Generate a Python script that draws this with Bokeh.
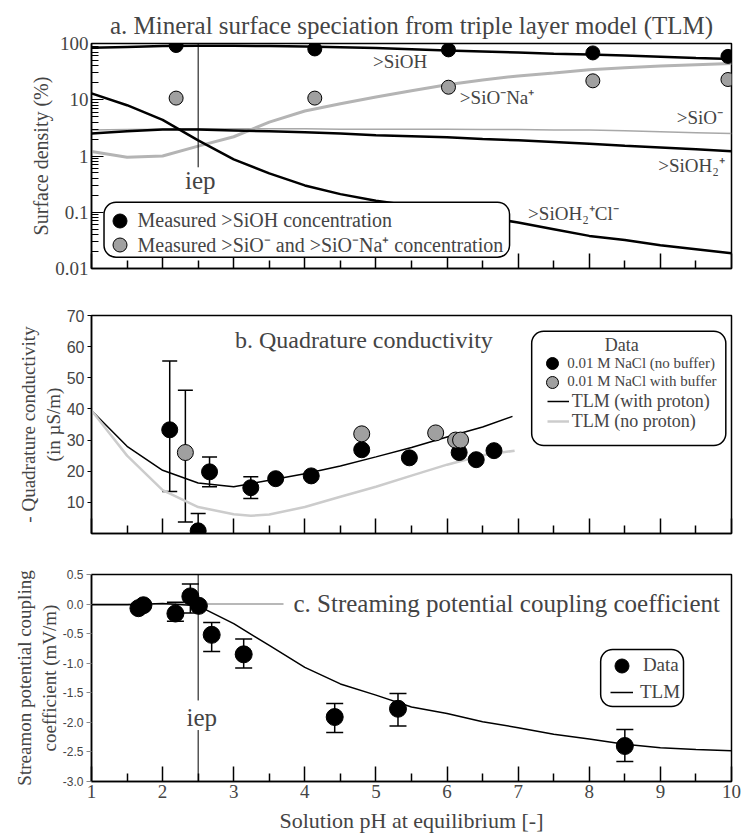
from bokeh.plotting import figure
from bokeh.layouts import column
from bokeh.models import (Range1d, FixedTicker, CustomJSTickFormatter, Label, Legend, LegendItem,
                          BoxAnnotation, Whisker, TeeHead, ColumnDataSource)
from bokeh.embed import file_html
from bokeh.resources import INLINE

SERIF = "Liberation Serif"
SANS = "Liberation Sans"

# ---------------- Panel a data ----------------
ph_meas_a = [2.19, 4.14, 6.02, 8.05, 9.95]
sioh_meas = [92, 80, 77, 68, 59]
sio_meas = [10.7, 10.7, 16.7, 21.7, 22.9]

ph_model_a = [1.0, 1.5, 2.0, 2.5, 3.0, 3.5, 4.0, 4.5, 5.0, 5.5, 6.0, 6.5, 7.0, 7.5, 8.0, 8.5, 9.0, 9.5, 10.0]
sioh_model = [84, 87, 90, 91, 91, 90, 88, 86, 83, 79, 75, 72, 69, 66, 64, 61, 58, 55, 53]
sio_na_model = [1.2, 0.95, 1.0, 1.5, 2.2, 4.0, 6.3, 8.5, 11.2, 14.5, 18.5, 22.5, 26.5, 30.0, 34.0, 37.0, 40.0, 42.0, 44.0]
sio_model = [2.9, 2.95, 3.0, 3.05, 3.05, 3.05, 3.05, 3.0, 3.0, 3.0, 3.0, 2.95, 2.95, 2.9, 2.9, 2.8, 2.7, 2.6, 2.5]
sioh2_model = [2.5, 2.75, 2.95, 2.95, 2.85, 2.75, 2.65, 2.5, 2.35, 2.25, 2.15, 2.0, 1.9, 1.78, 1.65, 1.52, 1.42, 1.32, 1.22]
sioh2cl_model = [13.0, 8.0, 4.4, 1.9, 0.87, 0.49, 0.30, 0.21, 0.16, 0.13, 0.10, 0.082, 0.066, 0.050, 0.038, 0.032, 0.026, 0.022, 0.0186]
iep_ph = 2.5

# ---------------- Panel b data ----------------
ph_b_nobuf = [2.10, 2.50, 2.66, 3.24, 3.59, 4.09, 4.80, 5.47, 6.17, 6.41, 6.66]
q_nobuf = [33.3, 0.85, 19.8, 14.7, 17.6, 18.5, 26.9, 24.3, 26.0, 23.7, 26.6]
ph_b_buf = [2.32, 4.80, 5.84, 6.12, 6.19]
q_buf = [26.0, 32.0, 32.3, 30.0, 30.0]
err_b_ph = [2.10, 2.32, 2.50, 2.66, 3.24]
err_b_low = [13.5, 3.7, 0.85, 15.0, 11.2]
err_b_up = [55.4, 46.0, 6.4, 24.6, 18.2]

ph_tlm_proton = [1.0, 1.5, 2.0, 2.5, 3.0, 3.5, 4.0, 4.5, 5.0, 5.5, 6.0, 6.5, 6.92]
q_tlm_proton = [39.5, 28.0, 20.3, 16.2, 15.0, 17.1, 19.2, 21.7, 24.6, 27.6, 31.0, 34.2, 37.6]
ph_tlm_noproton = [1.0, 1.5, 2.0, 2.5, 3.0, 3.24, 3.5, 4.0, 4.5, 5.0, 5.5, 6.0, 6.5, 6.95]
q_tlm_noproton = [39.5, 25.0, 13.9, 8.5, 6.2, 5.7, 6.1, 8.5, 11.8, 15.0, 18.6, 22.1, 25.1, 26.6]

# ---------------- Panel c data ----------------
ph_c = [1.66, 1.73, 2.18, 2.39, 2.51, 2.69, 3.14, 4.42, 5.31, 8.50]
c_val = [-0.07, -0.02, -0.16, 0.13, -0.03, -0.52, -0.85, -1.91, -1.77, -2.40]
err_c_ph = [2.18, 2.39, 2.69, 3.14, 4.42, 5.31, 8.50]
err_c_low = [-0.29, -0.15, -0.80, -1.08, -2.17, -2.06, -2.66]
err_c_up = [0.03, 0.34, -0.31, -0.59, -1.68, -1.51, -2.12]
ph_tlm_c = [1.0, 1.5, 2.0, 2.5, 3.0, 3.5, 4.0, 4.5, 5.0, 5.5, 6.0, 6.5, 7.0, 7.5, 8.0, 8.5, 9.0, 9.5, 10.0]
c_tlm = [-0.01, -0.01, 0.01, -0.03, -0.33, -0.70, -1.07, -1.35, -1.54, -1.74, -1.85, -1.99, -2.09, -2.20, -2.28, -2.37, -2.43, -2.46, -2.48]
zero_ph = [1.0, 3.7]
zero_val = [0.0, 0.0]

x_major = [1, 2, 3, 4, 5, 6, 7, 8, 9, 10]
x_minor = [1.5, 2.5, 3.5, 4.5, 5.5, 6.5, 7.5, 8.5, 9.5]

BOX_KW = {}
if "border_radius" in BoxAnnotation.properties():
    BOX_KW["border_radius"] = 12


def style_common(p):
    p.grid.visible = False
    p.outline_line_color = "black"
    p.outline_line_width = 1.5
    p.background_fill_color = "white"
    p.border_fill_color = "white"


def style_xaxis(ax, show_labels=False):
    ax.ticker = FixedTicker(ticks=x_major, minor_ticks=x_minor)
    ax.axis_line_width = 1.5
    ax.major_tick_in = 15
    ax.major_tick_out = 0
    ax.minor_tick_in = 8
    ax.minor_tick_out = 0
    ax.major_tick_line_width = 1.5
    ax.minor_tick_line_width = 1.5
    if not show_labels:
        ax.major_label_text_color = None
        ax.major_label_text_font_size = "8px"
        ax.major_label_standoff = 0


def add_box(p, left, right, top, bottom):
    p.add_layout(BoxAnnotation(left=left, right=right, top=top, bottom=bottom, fill_color="white",
                               fill_alpha=1, line_color="black", line_alpha=1, line_width=1.5, **BOX_KW))


def add_legend(p, renderer, label, loc, gw, gh, standoff, font_size):
    leg = Legend(items=[LegendItem(label=label, renderers=[renderer])], location=loc,
                 glyph_width=gw, glyph_height=gh, label_standoff=standoff, padding=0, margin=0,
                 spacing=0, border_line_color=None, background_fill_alpha=0,
                 label_text_font=SERIF, label_text_font_size=font_size, label_height=gh)
    p.add_layout(leg)


# ================= Panel a =================
pa = figure(width=746, height=290, x_range=Range1d(1, 10), y_range=Range1d(0.01, 100),
            y_axis_type="log", output_backend="svg", toolbar_location=None,
            min_border_left=85, min_border_right=15, min_border_top=43, min_border_bottom=22)
style_common(pa)
pa.title.text = "a. Mineral surface speciation from triple layer model (TLM)"
pa.title.text_font = SERIF
pa.title.text_font_size = "25px"
pa.title.text_font_style = "normal"
pa.title.align = "center"
pa.title.standoff = 9

style_xaxis(pa.xaxis[0])
ya = pa.yaxis[0]
ya.ticker = FixedTicker(ticks=[0.01, 0.1, 1, 10, 100],
                        minor_ticks=[m * d for d in [0.01, 0.1, 1, 10] for m in range(2, 10)])
ya.formatter = CustomJSTickFormatter(code="return String(tick);")
ya.major_tick_in = 12
ya.major_tick_out = 0
ya.minor_tick_in = 7
ya.minor_tick_out = 0
ya.axis_line_width = 1.5
ya.major_label_text_font = SERIF
ya.major_label_text_font_size = "19px"
ya.major_label_standoff = 3
ya.axis_label = "Surface density (%)"
ya.axis_label_text_font = SERIF
ya.axis_label_text_font_size = "20px"
ya.axis_label_text_font_style = "normal"
ya.axis_label_standoff = 0

pa.line(ph_model_a, sio_model, line_color="#a8a8a8", line_width=1.5)
pa.line(ph_model_a, sio_na_model, line_color="#b4b4b4", line_width=3)
pa.line(ph_model_a, sioh_model, line_color="black", line_width=2.5)
pa.line(ph_model_a, sioh2_model, line_color="black", line_width=2.5)
pa.line(ph_model_a, sioh2cl_model, line_color="black", line_width=2.5)
pa.segment(x0=[iep_ph], y0=[100], x1=[iep_ph], y1=[0.63], line_color="black", line_width=1)
ra1 = pa.scatter(ph_meas_a, sioh_meas, size=14, fill_color="black", line_color="black")
ra2 = pa.scatter(ph_meas_a, sio_meas, size=14, fill_color="#a0a0a0", line_color="black", line_width=1)

for txt, xx, yy in [(">SiOH", 4.96, 47.9), (">SiO\u207bNa\u207a", 6.18, 11.1), (">SiO\u207b", 9.23, 4.9),
                    (">SiOH\u2082\u207a", 8.97, 0.678), (">SiOH\u2082\u207aCl\u207b", 7.14, 0.0938)]:
    pa.add_layout(Label(x=xx, y=yy, text=txt, text_font=SERIF, text_font_size="19px",
                        text_baseline="middle", text_align="left"))
pa.add_layout(Label(x=2.53, y=0.367, text="iep", text_font=SERIF, text_font_size="25px",
                    text_baseline="middle", text_align="center"))

add_box(pa, 1.176, 6.879, 0.151, 0.0159)
add_legend(pa, ra1, "Measured >SiOH concentration", (10.5, 30.5), 35, 35, 1, "20px")
add_legend(pa, ra2, "Measured >SiO\u207b and >SiO\u207bNa\u207a concentration", (10.5, 6.2), 35, 35, 1, "20px")

# ================= Panel b =================
pb = figure(width=746, height=255, x_range=Range1d(1, 10), y_range=Range1d(0, 70),
            output_backend="svg", toolbar_location=None,
            min_border_left=86, min_border_right=12, min_border_top=25, min_border_bottom=12)
style_common(pb)
style_xaxis(pb.xaxis[0])
yb = pb.yaxis[0]
yb.ticker = FixedTicker(ticks=[10, 20, 30, 40, 50, 60, 70])
yb.major_tick_in = 0
yb.major_tick_out = 4
yb.minor_tick_in = 0
yb.minor_tick_out = 0
yb.axis_line_width = 1.5
yb.major_label_text_font = SANS
yb.major_label_text_font_size = "16px"
yb.major_label_standoff = 3
yb.axis_label = "- Quadrature conductivity\n(in \u00b5S/m)"
yb.axis_label_text_font = SERIF
yb.axis_label_text_font_size = "19px"
yb.axis_label_text_font_style = "normal"
yb.axis_label_standoff = 0

rb3 = pb.line(ph_tlm_proton, q_tlm_proton, line_color="black", line_width=1.5)
rb4 = pb.line(ph_tlm_noproton, q_tlm_noproton, line_color="#cccccc", line_width=2.5)
src_eb = ColumnDataSource(dict(base=err_b_ph, lower=err_b_low, upper=err_b_up))
pb.add_layout(Whisker(source=src_eb, base="base", lower="lower", upper="upper", line_color="black",
                      line_width=1.5,
                      upper_head=TeeHead(size=15, line_color="black", line_width=1.5),
                      lower_head=TeeHead(size=15, line_color="black", line_width=1.5)))
rb1 = pb.scatter(ph_b_nobuf, q_nobuf, size=16, fill_color="black", line_color="black")
rb2 = pb.scatter(ph_b_buf, q_buf, size=16, fill_color="#a0a0a0", line_color="black", line_width=1)

pb.add_layout(Label(x=4.83, y=62.0, text="b. Quadrature conductivity", text_font=SERIF,
                    text_font_size="24px", text_baseline="middle", text_align="center"))
add_box(pb, 7.19, 9.92, 64.96, 28.26)
pb.add_layout(Label(x=8.458, y=60.4, text="Data", text_font=SERIF, text_font_size="18px",
                    text_baseline="middle", text_align="center"))
add_legend(pb, rb1, "0.01 M NaCl (no buffer)", (446.3, 154.7), 30, 30, 0, "15px")
add_legend(pb, rb2, "0.01 M NaCl with buffer", (446.3, 136.3), 30, 30, 0, "15px")
add_legend(pb, rb3, "TLM (with proton)", (455.7, 121.5), 22, 20, 3, "18px")
add_legend(pb, rb4, "TLM (no proton)", (455.7, 101.5), 22, 20, 3, "18px")

# ================= Panel c =================
pc = figure(width=746, height=295, x_range=Range1d(1, 10), y_range=Range1d(-3.0, 0.5),
            output_backend="svg", toolbar_location=None,
            min_border_left=91, min_border_right=8, min_border_top=29, min_border_bottom=59)
style_common(pc)
style_xaxis(pc.xaxis[0], show_labels=True)
xc = pc.xaxis[0]
xc.formatter = CustomJSTickFormatter(code="return tick.toFixed(0);")
xc.major_label_text_font = SERIF
xc.major_label_text_font_size = "19px"
xc.major_label_standoff = 3
xc.axis_label = "Solution pH at equilibrium [-]"
xc.axis_label_text_font = SERIF
xc.axis_label_text_font_size = "22px"
xc.axis_label_text_font_style = "normal"
xc.axis_label_standoff = 7

yc = pc.yaxis[0]
yc.ticker = FixedTicker(ticks=[-3.0, -2.5, -2.0, -1.5, -1.0, -0.5, 0.0, 0.5])
yc.formatter = CustomJSTickFormatter(code="return tick.toFixed(1);")
yc.major_tick_in = 0
yc.major_tick_out = 5
yc.major_tick_line_color = "#888888"
yc.minor_tick_in = 0
yc.minor_tick_out = 0
yc.axis_line_width = 1.5
yc.major_label_text_font = SANS
yc.major_label_text_font_size = "12px"
yc.major_label_standoff = 3
yc.axis_label = "Streamon potential coupling\ncoefficient (mV/m)"
yc.axis_label_text_font = SERIF
yc.axis_label_text_font_size = "19px"
yc.axis_label_text_font_style = "normal"
yc.axis_label_standoff = 0

pc.line(zero_ph, zero_val, line_color="#a0a0a0", line_width=1.5)
pc.segment(x0=[iep_ph, iep_ph], y0=[0.5, -2.13], x1=[iep_ph, iep_ph], y1=[-1.63, -3.0],
           line_color="black", line_width=1)
rc2 = pc.line(ph_tlm_c, c_tlm, line_color="black", line_width=1.5)
src_ec = ColumnDataSource(dict(base=err_c_ph, lower=err_c_low, upper=err_c_up))
pc.add_layout(Whisker(source=src_ec, base="base", lower="lower", upper="upper", line_color="black",
                      line_width=1.5,
                      upper_head=TeeHead(size=17, line_color="black", line_width=1.5),
                      lower_head=TeeHead(size=17, line_color="black", line_width=1.5)))
rc1 = pc.scatter(ph_c, c_val, size=17, fill_color="black", line_color="black")

pc.add_layout(Label(x=3.84, y=0.01, text="c. Streaming potential coupling coefficient", text_font=SERIF,
                    text_font_size="25px", text_baseline="middle", text_align="left"))
pc.add_layout(Label(x=2.55, y=-1.91, text="iep", text_font=SERIF, text_font_size="25px",
                    text_baseline="middle", text_align="center"))
add_box(pc, 8.16, 9.325, -0.768, -1.732)
add_legend(pc, rc1, "Data", (512.9, 98.5), 35, 35, 4, "19px")
add_legend(pc, rc2, "TLM", (519.0, 78.3), 23, 20, 7, "19px")

layout = column(pa, pb, pc, spacing=0)
open("out.html", "w").write(file_html(layout, INLINE))
